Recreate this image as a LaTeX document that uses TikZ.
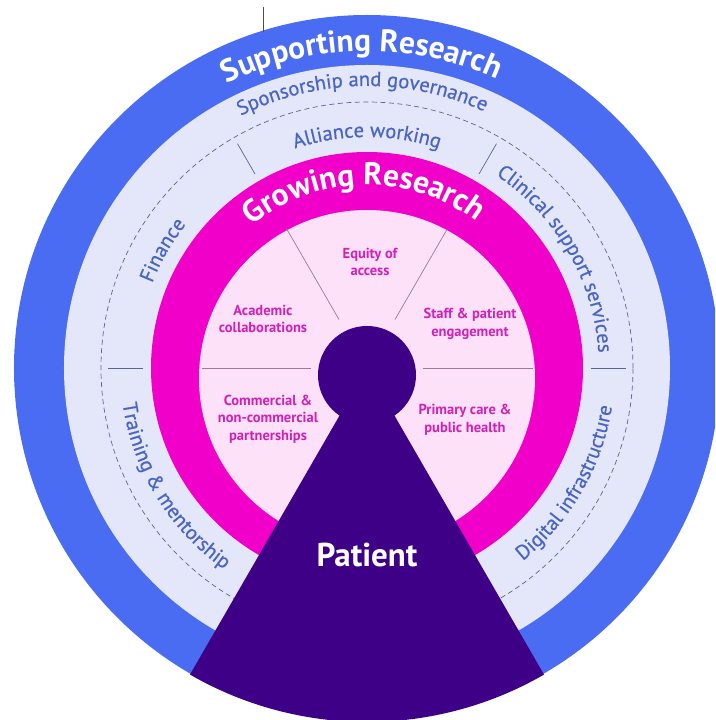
\documentclass[tikz,border=0pt]{standalone}
\usepackage{fontspec}
\setmainfont{PT Sans}
\newfontfamily\mediumfont[FakeBold=0.6]{PT Sans}
\usetikzlibrary{decorations.text}
\definecolor{supportblue}{HTML}{4A6CF2}
\definecolor{supportpale}{HTML}{E4E7FA}
\definecolor{growmagenta}{HTML}{F000C8}
\definecolor{growpale}{HTML}{FDE1F8}
\definecolor{patientpurple}{HTML}{3D0087}
\definecolor{labelblue}{HTML}{4A64C4}
\definecolor{labelmagenta}{HTML}{D020B8}
\definecolor{rulegray}{HTML}{5A6590}
\definecolor{rulemauve}{HTML}{A07898}
\newcommand\ringtitle{\bfseries\fontsize{31.5}{31.5}\selectfont}
\newcommand\ringlabel{\mediumfont\fontsize{20.5}{20.5}\selectfont}

\begin{document}
\begin{tikzpicture}[x=1pt, y=1pt,
  aim/.style = {font=\bfseries\fontsize{14.5}{17.5}\selectfont, text=labelmagenta, align=center},
  bluerule/.style = {draw=rulegray, line width=0.7pt},
  pinkrule/.style = {draw=rulemauve, line width=0.7pt},
  curved/.style = {decorate, decoration={text along path, text align=center, text color=#1}}
]
\useasboundingbox (-367,-352) rectangle (348,368);
\clip (-367,-352) rectangle (348,368);

    % rings
    \fill[supportblue] (0,0) circle[radius=353];
    \fill[supportpale] (0,0) circle[radius=303];
    \draw[rulegray, line width=0.7pt, dash pattern=on 5pt off 3.5pt] (0,0) circle[radius=266];
    \fill[growmagenta] (0,0) circle[radius=216];
    \fill[growpale] (0,-10) circle[radius=168];

    \foreach \a in {0,60,120,180}
        \draw[bluerule] (\a:224) -- (\a:259);
    \foreach \a/\r in {0/166, 60/160, 120/161, 180/165}
        \draw[pinkrule] (\a:56) -- (\a:\r);

    \draw[black!70, line width=0.8pt] (-104,361) -- (-104,336);

    % patient
    \fill[patientpurple] (0,0) -- (240:354) arc[start angle=240, end angle=300, radius=354] -- cycle;
    \node[circle, fill=patientpurple, minimum size=98pt, inner sep=0pt] (head) at (0,-7) {};
    \node[text=white, font=\bfseries\fontsize{33}{33}\selectfont] (patient) at (0,-187) {Patient};

    % curved titles
    \path[curved=white, decoration={text={|\ringtitle|Supporting Research}}]
        (151:317) arc[start angle=151, end angle=31, radius=317];
    \path[curved=white, decoration={text={|\ringtitle|Growing Research}}]
        (151:183) arc[start angle=151, end angle=31, radius=183];

    \path[curved=labelblue, decoration={text={|\ringlabel|Sponsorship and governance}}]
        (151:282) arc[start angle=151, end angle=31, radius=282];
    \path[curved=labelblue, decoration={text={|\ringlabel|Alliance working}}]
        (140:231) arc[start angle=140, end angle=40, radius=231];
    \path[curved=labelblue, decoration={text={|\ringlabel|Finance}}]
        (190:231) arc[start angle=190, end angle=110, radius=231];
    \path[curved=labelblue, decoration={text={|\ringlabel|Clinical support services}}]
        (80:232) arc[start angle=80, end angle=-20, radius=232];
    \path[curved=labelblue, decoration={text={|\ringlabel|Training {\&} mentorship}}]
        (165:247) arc[start angle=165, end angle=258, radius=247];
    \path[curved=labelblue, decoration={text={|\ringlabel|Digital infrastructure}}]
        (282:248) arc[start angle=282, end angle=378, radius=248];

    % inner aims
    \node[aim] (equity) at (3,106) {Equity of\\access};
    \node[aim] (academic) at (-104,49) {Academic\\collaborations};
    \node[aim] (staff) at (103,44) {Staff \& patient\\engagement};
    \node[aim] (commercial) at (-99,-51) {Commercial \&\\non-commercial\\partnerships};
    \node[aim] (primary) at (98,-52) {Primary care \&\\public health};

\end{tikzpicture}
\end{document}
